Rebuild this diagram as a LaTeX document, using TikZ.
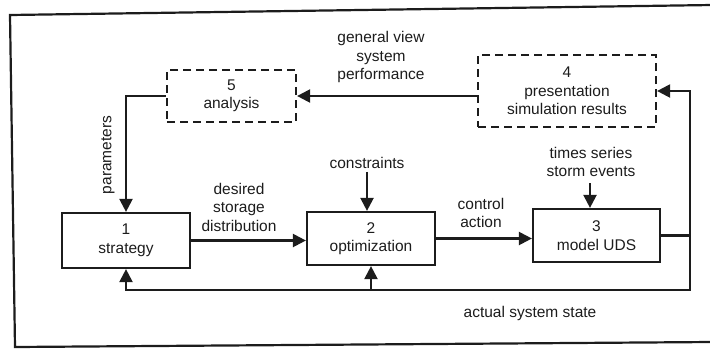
\documentclass[tikz,border=0pt]{standalone}
\usepackage{fontspec}
\setmainfont{Liberation Sans}
\usetikzlibrary{arrows.meta}
\definecolor{ink}{HTML}{1C1C1C}
\begin{document}
\begin{tikzpicture}[x=1pt,y=-1pt,
  every node/.style={text=ink,font=\fontsize{15.5}{18.5}\selectfont,align=center,inner sep=0pt},
  solidbox/.style={draw=ink,line width=2.2pt,rectangle},
  dashbox/.style={draw=ink,line width=2.2pt,rectangle,dash pattern=on 8pt off 5pt},
  conn/.style={draw=ink,line width=2.2pt},
  arr/.style={conn,-{Triangle[length=13pt,width=13pt]}},
  lbl/.style={}]
\useasboundingbox (0,0) rectangle (710,349);
% outer frame (right side runs off the page)
\draw[ink,line width=2.2pt] (712,5) -- (10,15) -- (15,347) -- (712,342);

% blocks
\node[solidbox,minimum width=128pt,minimum height=55pt] (b1) at (126,240.5) {1\\strategy};
\node[solidbox,minimum width=128pt,minimum height=53pt] (b2) at (371,238.5) {2\\optimization};
\node[solidbox,minimum width=127pt,minimum height=53pt] (b3) at (596.5,235.5) {3\\model UDS};
\node[dashbox,minimum width=178pt,minimum height=72pt] (b4) at (567,91) {4\\presentation\\simulation results};
\node[dashbox,minimum width=129pt,minimum height=52pt] (b5) at (231.5,96) {5\\analysis};

% labels
\node[lbl] (gv) at (381,57) {general view\\system\\performance};
\node[lbl,rotate=90] (par) at (108,155) {parameters};
\node[lbl] (dsd) at (239,207) {desired\\storage\\distribution};
\node[lbl] (cons) at (367,163) {constraints};
\node[lbl] (ca) at (481,213) {control\\action};
\node[lbl] (ts) at (591,162) {times series\\storm events};
\node[lbl] (ass) at (530,313) {actual system state};

% feedback junction
\coordinate (fr) at (690,290);

% connectors
\draw[arr] (b4.west |- b5.east) -- (b5.east);
\draw[arr] (b5.west) -| (b1.north);
\draw[arr] (b1.east) -- (b2.west |- b1.east);
\draw[arr] (b2.east) -- (b3.west |- b2.east);
\draw[arr] (cons.south) ++(0,3) -- (cons.south |- b2.north);
\draw[arr] (ts.south) ++(-1,6) -- ([xshift=-1pt]ts.south |- b3.north);
\draw[arr] (b3.east) -| (fr) -| (b1.south);
\draw[arr] (b2.south |- fr) -- (b2.south);
\draw[arr] (b3.east -| fr) |- (b4.east);
\end{tikzpicture}
\end{document}
